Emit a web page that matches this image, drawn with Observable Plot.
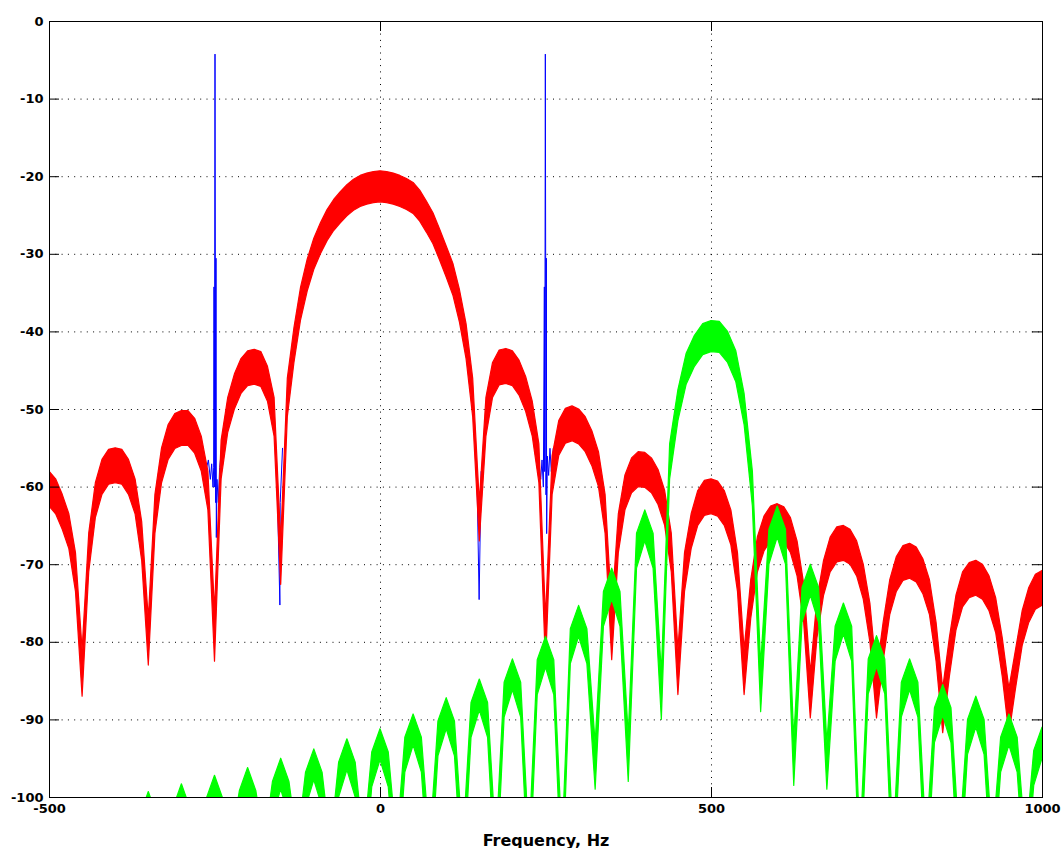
<!DOCTYPE html>
<html>
<head>
<meta charset="utf-8">
<script src="https://cdn.jsdelivr.net/npm/d3@7"></script>
<script src="https://cdn.jsdelivr.net/npm/@observablehq/plot@0.6"></script>
<style>
  html, body { margin: 0; padding: 0; background: #fff; }
  #chart { width: 1061px; height: 848px; }
</style>
</head>
<body>
<div id="chart"></div>
<script>
// ---- axis ticks ----
const xTicks = [-500, 0, 500, 1000];
const yTicks = [0, -10, -20, -30, -40, -50, -60, -70, -80, -90, -100];
const xLabel = "Frequency, Hz";

// ---- red spectrum (upper / lower edge of the noisy band), 10 Hz steps ----
const redFreq = [-500,-490,-480,-470,-460,-450,-440,-430,-420,-410,-400,-390,-380,-370,-360,-350,-340,-330,-320,-310,-300,-290,-280,-270,-260,-250,-240,-230,-220,-210,-200,-190,-180,-170,-160,-150,-140,-130,-120,-110,-100,-90,-80,-70,-60,-50,-40,-30,-20,-10,0,10,20,30,40,50,60,70,80,90,100,110,120,130,140,150,160,170,180,190,200,210,220,230,240,250,260,270,280,290,300,310,320,330,340,350,360,370,380,390,400,410,420,430,440,450,460,470,480,490,500,510,520,530,540,550,560,570,580,590,600,610,620,630,640,650,660,670,680,690,700,710,720,730,740,750,760,770,780,790,800,810,820,830,840,850,860,870,880,890,900,910,920,930,940,950,960,970,980,990,1000];
const redHigh = [-58.0,-59.0,-61.0,-63.5,-68.5,-81.0,-66.0,-59.5,-56.5,-55.2,-55.0,-55.2,-56.5,-59.0,-64.5,-77.0,-61.0,-55.0,-52.0,-50.6,-50.2,-50.2,-51.2,-53.5,-58.0,-76.0,-54.0,-48.5,-45.5,-43.5,-42.5,-42.3,-42.6,-44.5,-48.5,-67.0,-46.0,-39.5,-34.3,-30.7,-28.0,-26.0,-24.3,-23.0,-22.0,-21.1,-20.4,-19.9,-19.6,-19.4,-19.3,-19.4,-19.6,-19.9,-20.3,-20.8,-21.8,-23.2,-24.7,-26.8,-29.0,-31.2,-34.6,-39.0,-46.0,-62.0,-48.5,-44.0,-42.4,-42.2,-42.5,-43.7,-45.8,-49.0,-54.5,-77.0,-56.0,-51.5,-49.9,-49.6,-50.0,-51.0,-52.8,-55.5,-61.0,-76.0,-63.5,-58.5,-56.3,-55.5,-55.6,-56.3,-57.8,-60.5,-66.0,-81.0,-68.5,-63.5,-60.5,-59.2,-59.0,-59.3,-60.5,-63.0,-68.5,-81.0,-72.0,-66.5,-63.8,-62.5,-62.2,-62.6,-64.0,-67.0,-72.5,-84.0,-74.5,-69.5,-66.5,-65.2,-65.0,-65.5,-67.0,-70.0,-75.0,-84.0,-77.5,-72.0,-69.0,-67.6,-67.3,-67.8,-69.3,-72.0,-77.5,-86.0,-79.5,-74.0,-71.0,-69.8,-69.5,-70.0,-71.5,-74.3,-79.5,-86.0,-81.0,-76.0,-73.0,-71.3,-70.8];
const redLow = [-62.5,-63.5,-65.5,-68.0,-73.5,-87.0,-71.0,-64.0,-61.0,-59.7,-59.5,-59.7,-61.0,-63.5,-69.5,-83.0,-66.0,-59.5,-56.5,-55.1,-54.7,-54.7,-55.7,-58.0,-63.0,-82.5,-59.0,-53.0,-50.0,-48.0,-47.0,-46.8,-47.1,-49.0,-53.5,-72.6,-51.0,-44.0,-38.5,-34.8,-32.0,-30.0,-28.3,-27.0,-26.0,-25.1,-24.4,-23.9,-23.6,-23.4,-23.3,-23.4,-23.6,-23.9,-24.3,-24.8,-25.8,-27.2,-28.7,-30.8,-33.0,-35.3,-38.8,-43.5,-51.0,-67.0,-53.5,-48.5,-46.9,-46.7,-47.0,-48.2,-50.3,-53.5,-59.5,-83.0,-61.0,-56.0,-54.4,-54.1,-54.5,-55.5,-57.3,-60.0,-66.0,-82.3,-68.5,-63.0,-60.8,-60.0,-60.1,-60.8,-62.3,-65.0,-71.0,-86.8,-73.5,-68.0,-65.0,-63.7,-63.5,-63.8,-65.0,-67.5,-73.5,-86.8,-77.0,-71.0,-68.3,-67.0,-66.7,-67.1,-68.5,-71.5,-77.5,-89.8,-79.5,-74.0,-71.0,-69.7,-69.5,-70.0,-71.5,-74.5,-80.0,-89.8,-82.5,-76.5,-73.5,-72.1,-71.8,-72.3,-73.8,-76.5,-82.5,-91.7,-84.5,-78.5,-75.5,-74.3,-74.0,-74.5,-76.0,-78.8,-84.5,-91.9,-86.0,-80.5,-77.5,-75.8,-75.3];

// ---- green spectrum (upper / lower edge), 12.5 Hz steps ----
const greenFreq = [-500,-487.5,-475,-462.5,-450,-437.5,-425,-412.5,-400,-387.5,-375,-362.5,-350,-337.5,-325,-312.5,-300,-287.5,-275,-262.5,-250,-237.5,-225,-212.5,-200,-187.5,-175,-162.5,-150,-137.5,-125,-112.5,-100,-87.5,-75,-62.5,-50,-37.5,-25,-12.5,0,12.5,25,37.5,50,62.5,75,87.5,100,112.5,125,137.5,150,162.5,175,187.5,200,212.5,225,237.5,250,262.5,275,287.5,300,312.5,325,337.5,350,362.5,375,387.5,400,412.5,425,437.5,450,462.5,475,487.5,500,512.5,525,537.5,550,562.5,575,587.5,600,612.5,625,637.5,650,662.5,675,687.5,700,712.5,725,737.5,750,762.5,775,787.5,800,812.5,825,837.5,850,862.5,875,887.5,900,912.5,925,937.5,950,962.5,975,987.5,1000];
const greenHigh = [-101.5,-104.5,-106,-104,-101,-104,-106,-103.2,-100.2,-103.2,-106,-102.3,-99.3,-102.3,-106,-101.3,-98.3,-101.3,-106,-100.2,-97.2,-100.2,-106,-99.2,-96.2,-99.2,-106,-98,-95,-98,-106,-96.8,-93.8,-96.8,-106,-95.5,-92.5,-95.5,-106,-94.2,-91.2,-94.2,-106,-92.3,-89.3,-92.3,-106,-90.2,-87.2,-90.2,-106,-87.8,-84.8,-87.8,-106,-85.2,-82.2,-85.2,-106,-82.3,-79.3,-82.3,-106,-78.3,-75.3,-78.3,-93,-73.5,-70.5,-73.5,-92,-66,-63,-66,-84,-54.5,-47.5,-42.8,-40.5,-39,-38.6,-38.7,-40,-42.5,-48,-58,-83,-65.5,-62.5,-65.5,-92.5,-73,-70,-73,-93,-78,-75,-78,-106,-82.2,-79.2,-82.2,-106,-85.2,-82.2,-85.2,-106,-88.5,-85.5,-88.5,-106,-90,-87,-90,-106,-92.3,-89.3,-92.3,-106,-94,-91];
const greenLow = [-105.5,-109,-112,-108.5,-105,-108.5,-112,-107.7,-104.2,-107.7,-112,-106.8,-103.3,-106.8,-112,-105.8,-102.3,-105.8,-112,-104.7,-101.2,-104.7,-112,-103.7,-100.2,-103.7,-112,-102.5,-99,-102.5,-112,-101.3,-97.8,-101.3,-112,-100,-96.5,-100,-112,-98.7,-95.2,-98.7,-112,-96.8,-93.3,-96.8,-112,-94.7,-91.2,-94.7,-112,-92.3,-88.8,-92.3,-112,-89.7,-86.2,-89.7,-112,-86.8,-83.3,-86.8,-112,-82.8,-79.3,-82.8,-99,-78,-74.5,-78,-98,-70.5,-67,-70.5,-90,-59,-51.5,-46.8,-44.5,-43,-42.6,-42.7,-44,-46.5,-52,-62.5,-89,-70,-66.5,-70,-98.5,-77.5,-74,-77.5,-99,-82.5,-79,-82.5,-112,-86.7,-83.2,-86.7,-112,-89.7,-86.2,-89.7,-112,-93,-89.5,-93,-112,-94.5,-91,-94.5,-112,-96.8,-93.3,-96.8,-112,-98.5,-95];

// ---- blue spectrum: only where it shows past the red (tones at ±250 Hz, nulls at ±150 Hz) ----
const blueFreq = [-264,-260,-257,-255,-253,-252,-251.5,-251,-250.5,-250,-249.5,-249,-248.5,-248,-247,-245,-243,-240,
                  -156,-152,-151.5,-148,
                  146,149,152,
                  238,240,242,244,246,247.5,248,248.5,249,249.5,250,250.5,251,252,254,256,258,261];
const blueDb   = [-58,-56.5,-59,-57,-60,-57.5,-34.2,-60,-34.5,-4.2,-30.5,-62,-30.5,-66.5,-59,-62,-57.5,-55,
                  -60,-75.2,-62,-55,
                  -60,-74.5,-58,
                  -56,-57.5,-59,-56.5,-60,-34.2,-58,-34.5,-4.2,-30.2,-61,-30.5,-66,-56,-58.5,-55,-58,-55];
const blueSeg  = [1,1,1,1,1,1,1,1,1,1,1,1,1,1,1,1,1,1, 2,2,2,2, 3,3,3, 4,4,4,4,4,4,4,4,4,4,4,4,4,4,4,4,4,4];

// ---- tables for the library ----
const red = redFreq.map((f, i) => ({f, hi: redHigh[i], lo: redLow[i]}));
const green = greenFreq.map((f, i) => ({f, hi: greenHigh[i], lo: greenLow[i]}));
const blue = blueFreq.map((f, i) => ({f, db: blueDb[i], seg: blueSeg[i]}));
const xGrid = xTicks.filter(d => d > -500 && d < 1000);
const yGrid = yTicks.filter(d => d < 0 && d > -100);

const dotted = {stroke: "#000", strokeWidth: 1, strokeDasharray: "1,5.3"};

const chart = Plot.plot({
  width: 1061,
  height: 848,
  marginLeft: 49,
  marginRight: 19,
  marginTop: 21,
  marginBottom: 51,
  x: {domain: [-500, 1000]},
  y: {domain: [-100, 0]},
  style: {fontFamily: "DejaVu Sans", fontWeight: "bold", fontSize: "13px", background: "#fff", color: "#000"},
  marks: [
    Plot.ruleY(yGrid, dotted),
    Plot.ruleX(xGrid, dotted),
    Plot.line(blue, {x: "f", y: "db", z: "seg", stroke: "#0000ff", strokeWidth: 1, clip: true}),
    Plot.areaY(red, {x: "f", y1: "lo", y2: "hi", fill: "#ff0000", stroke: "#ff0000", strokeWidth: 1.2, clip: true}),
    Plot.areaY(green, {x: "f", y1: "lo", y2: "hi", fill: "#00ff00", stroke: "#00ff00", strokeWidth: 1.2, clip: true}),
    Plot.frame({stroke: "#000", strokeWidth: 1}),
    // inward tick marks on all four sides
    Plot.ruleX(xTicks, {stroke: "#000", insetTop: 766}),
    Plot.ruleX(xTicks, {stroke: "#000", insetBottom: 766}),
    Plot.ruleY(yTicks, {stroke: "#000", insetRight: 983}),
    Plot.ruleY(yTicks, {stroke: "#000", insetLeft: 983}),
    Plot.axisX({ticks: xTicks, tickSize: 0, tickPadding: 6, tickFormat: d => String(d), label: null, fontWeight: "bold"}),
    Plot.axisY({ticks: yTicks, tickSize: 0, tickPadding: 6, tickFormat: d => String(d), label: null, fontWeight: "bold"}),
    Plot.text([xLabel], {text: d => d, frameAnchor: "bottom", dy: 48, lineAnchor: "bottom", fontSize: 16, fontWeight: "bold", fontFamily: "DejaVu Sans"})
  ]
});
document.getElementById("chart").appendChild(chart);
</script>
</body>
</html>
